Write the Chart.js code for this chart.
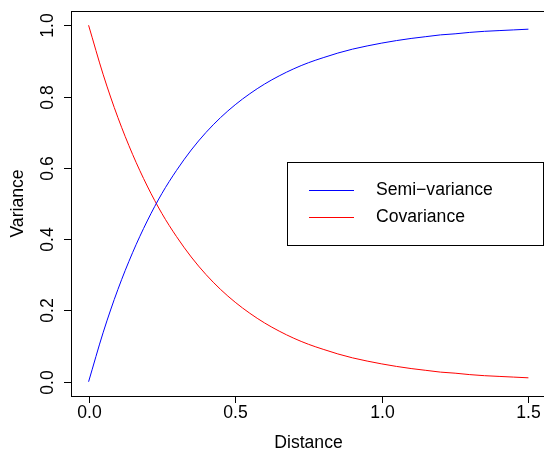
<!DOCTYPE html>
<html><head><meta charset="utf-8">
<script src="https://cdn.jsdelivr.net/npm/chart.js@4"></script>
<style>html,body{margin:0;padding:0;background:#fff;overflow:hidden;width:544px;height:452px}#wrap{width:544px;height:452px;overflow:hidden}</style>
</head><body><div id="wrap"><canvas id="c" width="550" height="452" style="width:550px;height:452px"></canvas></div>
<script>
const distance = [0,0.05,0.1,0.15,0.2,0.25,0.3,0.35,0.4,0.45,0.5,0.55,0.6,0.65,0.7,0.75,0.8,0.85,0.9,0.95,1.0,1.05,1.1,1.15,1.2,1.25,1.3,1.35,1.4,1.45,1.5];
const covariance = [1.000,0.861,0.741,0.638,0.549,0.472,0.407,0.350,0.301,0.259,0.223,0.192,0.165,0.142,0.122,0.105,0.091,0.078,0.067,0.058,0.050,0.043,0.037,0.032,0.027,0.024,0.020,0.017,0.015,0.013,0.011];
const semivariance = [0.000,0.139,0.259,0.362,0.451,0.528,0.593,0.650,0.699,0.741,0.777,0.808,0.835,0.858,0.878,0.895,0.909,0.922,0.933,0.942,0.950,0.957,0.963,0.968,0.973,0.976,0.980,0.983,0.985,0.987,0.989];
const xTicks = [0, 0.5, 1.0, 1.5];
const xTickLabels = ["0.0","0.5","1.0","1.5"];
const yTicks = [0, 0.2, 0.4, 0.6, 0.8, 1.0];
const yTickLabels = ["0.0","0.2","0.4","0.6","0.8","1.0"];
const seriesNames = ["Semi\u2212variance","Covariance"];
const seriesColors = ["#0000ff","#ff0000"];

const FONT = '17.6px "Liberation Sans", Arial, sans-serif';
const axesPlugin = {
  id:'rAxes',
  afterDraw(chart){
    const ctx = chart.ctx, a = chart.chartArea, xs = chart.scales.x, ys = chart.scales.y;
    ctx.save();
    ctx.strokeStyle='#000'; ctx.lineWidth=1;
    ctx.strokeRect(Math.round(a.left)+0.5, Math.round(a.top)+0.5, Math.round(a.right-a.left), Math.round(a.bottom-a.top));
    ctx.fillStyle='#000'; ctx.font=FONT;
    ctx.textAlign='center'; ctx.textBaseline='middle';
    xTicks.forEach((v,i)=>{
      const px = Math.round(xs.getPixelForValue(v))+0.5;
      ctx.beginPath(); ctx.moveTo(px, a.bottom); ctx.lineTo(px, a.bottom+7); ctx.stroke();
      ctx.fillText(xTickLabels[i], px, 413);
    });
    yTicks.forEach((v,i)=>{
      const py = Math.round(ys.getPixelForValue(v))+0.5;
      ctx.beginPath(); ctx.moveTo(a.left, py); ctx.lineTo(a.left-7, py); ctx.stroke();
      ctx.save(); ctx.translate(48, py); ctx.rotate(-Math.PI/2);
      ctx.fillText(yTickLabels[i], 0, 0); ctx.restore();
    });
    ctx.fillText('Distance', (a.left+a.right)/2, 443);
    ctx.save(); ctx.translate(18, (a.top+a.bottom)/2); ctx.rotate(-Math.PI/2);
    ctx.fillText('Variance', 0, 0); ctx.restore();
    const lx=287, ly=162, lw=256, lh=83;
    ctx.fillStyle='#fff'; ctx.fillRect(lx,ly,lw,lh);
    ctx.strokeStyle='#000'; ctx.strokeRect(lx+0.5, ly+0.5, lw, lh);
    ctx.textAlign='left';
    [190, 217].forEach((yy,i)=>{
      ctx.strokeStyle=seriesColors[i]; ctx.beginPath(); ctx.moveTo(309, yy+0.5); ctx.lineTo(354, yy+0.5); ctx.stroke();
      ctx.fillStyle='#000'; ctx.fillText(seriesNames[i], 376, yy);
    });
    ctx.restore();
  }
};

new Chart(document.getElementById('c'), {
  type:'line',
  data:{ datasets:[
    {label:seriesNames[0], data: distance.map((d,i)=>({x:d,y:semivariance[i]})), borderColor:seriesColors[0], borderWidth:1, pointRadius:0, cubicInterpolationMode:'monotone', fill:false},
    {label:seriesNames[1], data: distance.map((d,i)=>({x:d,y:covariance[i]})), borderColor:seriesColors[1], borderWidth:1, pointRadius:0, cubicInterpolationMode:'monotone', fill:false}
  ]},
  options:{
    responsive:false, animation:false, devicePixelRatio:1,
    layout:{padding:{left:71, top:11, right:4, bottom:56}},
    plugins:{legend:{display:false}, tooltip:{enabled:false}},
    scales:{
      x:{type:'linear', min:-0.06, max:1.56, display:false},
      y:{type:'linear', min:-0.04, max:1.04, display:false}
    }
  },
  plugins:[axesPlugin]
});
</script></body></html>
